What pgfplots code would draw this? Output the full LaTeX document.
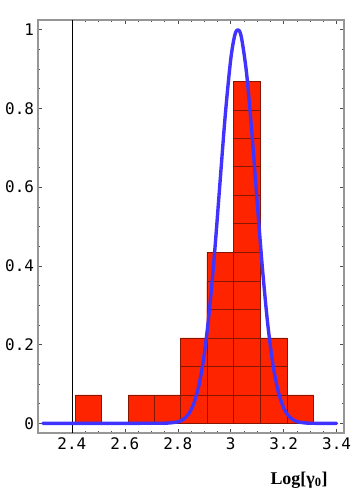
\documentclass[border=0pt]{standalone}
\usepackage{pgfplots}
\pgfplotsset{compat=1.18}
\usepackage{fontspec}
\setmainfont{Liberation Serif}
\newfontfamily\tickfont{DejaVu Sans Mono}
\definecolor{histfill}{RGB}{255,36,0}
\definecolor{histedge}{RGB}{135,22,0}
\definecolor{fitblue}{RGB}{64,50,255}
\definecolor{framegray}{RGB}{150,150,150}

\begin{document}
\begin{tikzpicture}
% page size fixed to the reference: axis box is 306 x 413 bp
\path[use as bounding box] (-38bp,-63bp) rectangle (316bp,433bp);
\begin{axis}[
    scale only axis,
    width=306bp, height=413bp,
    anchor=south west, at={(0,0)},
    xmin=2.272, xmax=3.428,
    ymin=-0.0246, ymax=1.0246,
    xtick={2.4,2.6,2.8,3.0,3.2,3.4},
    ytick={0,0.2,0.4,0.6,0.8,1},
    minor tick num=3,
    tick align=inside,
    major tick length=4bp,
    minor tick length=2.2bp,
    every tick/.style={black!70, line width=0.5pt},
    axis line style={framegray, line width=1.1pt},
    /pgf/number format/fixed,
    /pgf/number format/precision=1,
    /pgf/number format/assume math mode=true,
    tick label style={font=\fontsize{16}{18}\tickfont},
    xticklabel style={yshift=-1bp},
    yticklabel style={xshift=-0.5bp},
    xlabel={\bfseries Log[γ\textsubscript{0}]},
    xlabel style={font=\fontsize{18}{20}\selectfont, at={(axis description cs:0.853,0)}, anchor=center, yshift=-47bp},
    box/.style={ybar, bar shift=0pt, bar width=0.1, fill=histfill, draw=histedge, line width=0.6pt, mark=none},
]
% histogram drawn as stacked unit boxes (h = 0.0724 per count), tallest first
\addplot[box] coordinates {(3.061,0.869)};
\addplot[box] coordinates {(3.061,0.796)};
\addplot[box] coordinates {(3.061,0.724)};
\addplot[box] coordinates {(3.061,0.652)};
\addplot[box] coordinates {(3.061,0.579)};
\addplot[box] coordinates {(3.061,0.507)};
\addplot[box] coordinates {(2.960,0.434) (3.061,0.434)};
\addplot[box] coordinates {(2.960,0.362) (3.061,0.362)};
\addplot[box] coordinates {(2.960,0.290) (3.061,0.290)};
\addplot[box] coordinates {(2.860,0.217) (2.960,0.217) (3.061,0.217) (3.162,0.217)};
\addplot[box] coordinates {(2.860,0.145) (2.960,0.145) (3.061,0.145) (3.162,0.145)};
\addplot[box] coordinates {(2.462,0.0724) (2.662,0.0724) (2.761,0.0724) (2.860,0.0724) (2.960,0.0724) (3.061,0.0724) (3.162,0.0724) (3.262,0.0724)};

% axis line at x = 2.4
\addplot[sharp plot, draw=black, line width=0.6pt, mark=none] coordinates {(2.4,-0.0246) (2.4,1.0246)};

% fitted curve
\addplot[smooth, tension=0.5, draw=fitblue, line width=3.4pt, line cap=round, line join=round, mark=none] coordinates {
(2.29,0) (2.6,0) (2.7,0.0001) (2.76,0.0005) (2.8,0.0038) (2.82,0.0097) (2.84,0.0228)
(2.86,0.049) (2.88,0.0966) (2.9,0.1748) (2.92,0.29) (2.94,0.441) (2.96,0.6155)
(2.98,0.7875) (3.0,0.924) (3.015,0.985) (3.027,1) (3.04,0.982) (3.06,0.889)
(3.08,0.738) (3.1,0.562) (3.12,0.3925) (3.14,0.2514) (3.16,0.1477) (3.18,0.0796)
(3.2,0.0393) (3.22,0.0178) (3.24,0.0074) (3.26,0.0028) (3.3,0.0002) (3.4,0)};
\end{axis}
\end{tikzpicture}
\end{document}
